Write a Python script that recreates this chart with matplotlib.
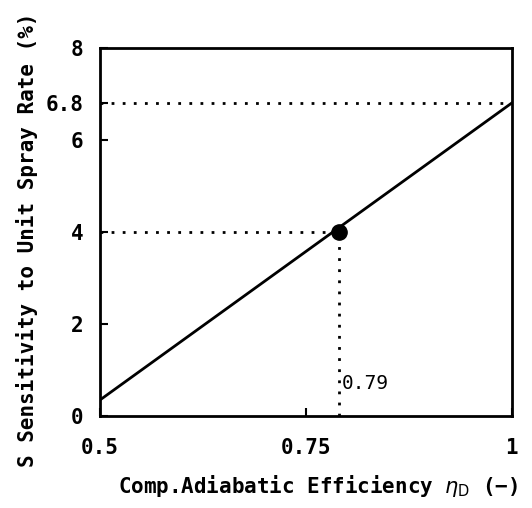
import matplotlib
matplotlib.use("Agg")
import matplotlib.pyplot as plt

# efficiency vs sensitivity line
eff = [0.5, 1.0]
sens = [0.35, 6.8]
# marked operating point
point_eff = 0.79
point_sens = 4.0
ref_level = 6.8

x_ticks = [0.5, 0.75, 1.0]
x_labels = ["0.5", "0.75", "1"]
y_ticks = [0, 2, 4, 6, 6.8, 8]
y_labels = ["0", "2", "4", "6", "6.8", "8"]

plt.rcParams["font.family"] = ["DejaVu Sans Mono", "DejaVu Sans"]
plt.rcParams["mathtext.fontset"] = "dejavusans"

fig = plt.figure(figsize=(5.32, 5.08), dpi=100)
ax = fig.add_axes([0.188, 0.181, 0.774, 0.725])

ax.plot(eff, sens, color="black", lw=2)
ax.plot([0.5, 1.0], [ref_level, ref_level], color="black", lw=2, ls=(0, (1, 3)))
ax.plot([0.5, point_eff], [point_sens, point_sens], color="black", lw=2, ls=(0, (1, 3)))
ax.plot([point_eff, point_eff], [0, point_sens], color="black", lw=2, ls=(0, (1, 3)))
ax.plot([point_eff], [point_sens], "o", color="black", markersize=11)
ax.text(point_eff + 0.004, 0.7, "0.79", fontsize=14, va="center", ha="left")

ax.set_xlim(0.5, 1.0)
ax.set_ylim(0, 8)
ax.set_xticks(x_ticks)
ax.set_xticklabels(x_labels, fontweight="bold")
ax.set_yticks(y_ticks)
ax.set_yticklabels(y_labels, fontweight="bold")
ax.tick_params(direction="in", length=6, width=1.5, labelsize=15)
ax.tick_params(axis="x", pad=16)
ax.tick_params(axis="y", pad=12)
for s in ax.spines.values():
    s.set_linewidth(2)

ax.set_xlabel("Comp.Adiabatic Efficiency $\\eta_{\\mathrm{D}}$ (\u2212)",
              fontsize=15, fontweight="bold")
ax.xaxis.set_label_coords(0.53, -0.155)
ax.set_ylabel("S Sensitivity to Unit Spray Rate (%)",
              fontsize=15, fontweight="bold")
ax.yaxis.set_label_coords(-0.15, 0.48)

fig.savefig("out.png", dpi=100)
